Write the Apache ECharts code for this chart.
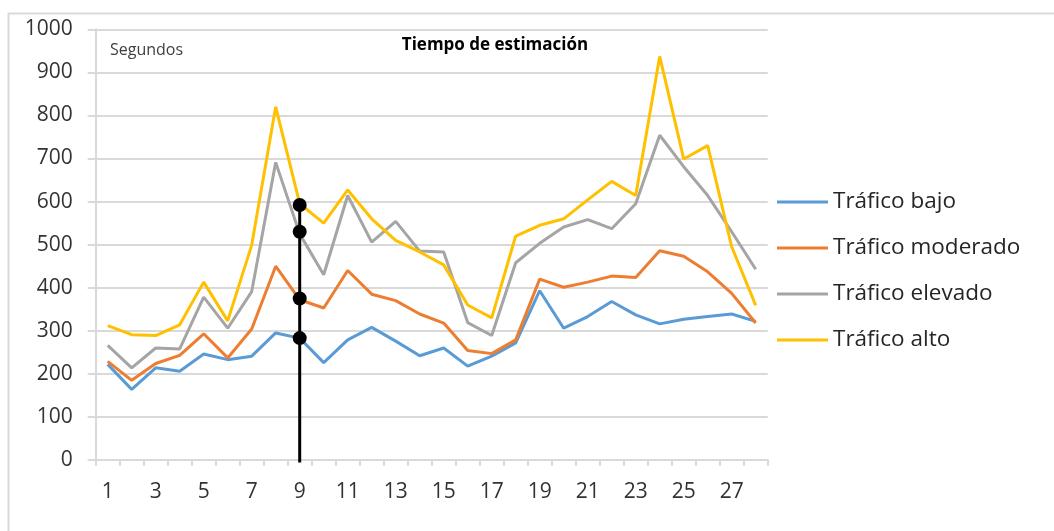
<!DOCTYPE html>
<html><head><meta charset="utf-8">
<script src="https://cdn.jsdelivr.net/npm/echarts@6/dist/echarts.min.js"></script>
<style>html,body{margin:0;padding:0;background:#fff}#c{width:1054px;height:531px}</style>
</head><body><div id="c"></div>
<script>
var categories = ['1','2','3','4','5','6','7','8','9','10','11','12','13','14','15','16','17','18','19','20','21','22','23','24','25','26','27','28'];
var bajo     = [222,164,214,206,246,233,241,295,283,226,279,308,276,242,260,218,241,272,393,306,333,368,337,316,327,333,339,322];
var moderado = [229,185,224,243,293,237,304,450,372,353,440,385,370,339,318,254,247,279,420,401,413,427,424,486,473,437,387,318];
var elevado  = [266,214,260,258,378,306,391,691,525,430,614,506,554,485,483,319,289,458,503,541,558,537,595,754,681,614,530,443];
var alto     = [312,291,289,314,413,323,499,820,595,550,627,560,510,483,453,360,330,520,545,560,604,647,614,937,699,730,495,359];
var markerCategory = '9';
var markerValues = [283,375,530,592];
var markerLine = [-6,592];
var seriesNames = ['Tráfico bajo','Tráfico moderado','Tráfico elevado','Tráfico alto'];

var FONT = 'Open Sans';
var chart = echarts.init(document.getElementById('c'));
function lineSeries(name, data, color){
  return {name:name,type:'line',data:data,symbol:'none',smooth:false,
    lineStyle:{color:color,width:3},itemStyle:{color:color},z:2};
}
chart.setOption({
  animation:false,
  textStyle:{fontFamily:FONT},
  grid:{left:95.7,right:286.3,top:29.3,bottom:71,containLabel:false},
  xAxis:{type:'category',data:categories,boundaryGap:true,
    axisLine:{lineStyle:{color:'#d9d9d9',width:2}},
    axisTick:{show:true,interval:0,length:6,lineStyle:{color:'#d9d9d9',width:2}},
    axisLabel:{interval:1,color:'#333333',fontSize:21,fontFamily:FONT,margin:22},
    splitLine:{show:false}},
  yAxis:{type:'value',min:0,max:1000,interval:100,
    axisLine:{show:true,lineStyle:{color:'#d9d9d9',width:2}},
    axisTick:{show:true,length:8,lineStyle:{color:'#d9d9d9',width:2}},
    axisLabel:{color:'#333333',fontSize:21,fontFamily:FONT,margin:23,formatter:function(v){return String(v);}},
    splitLine:{lineStyle:{color:'#d9d9d9',width:2}}},
  legend:{orient:'vertical',left:772,top:185.5,data:seriesNames,
    icon:'rect',itemWidth:51,itemHeight:3,itemGap:23,
    textStyle:{fontSize:22.5,color:'#262626',fontFamily:FONT}},
  graphic:[
    {type:'line',shape:{x1:8.5,y1:13,x2:8.5,y2:531},style:{stroke:'#d9d9d9',lineWidth:2},silent:true},
    {type:'line',shape:{x1:8,y1:13.5,x2:1054,y2:13.5},style:{stroke:'#d9d9d9',lineWidth:2},silent:true},
    {type:'text',x:110,y:50,style:{text:'Segundos',font:'16px "Open Sans"',fill:'#404040',textVerticalAlign:'middle'}},
    {type:'text',x:495,y:45,style:{text:'Tiempo de estimación',font:'bold 17px "Open Sans"',fill:'#000',textAlign:'center',textVerticalAlign:'middle'}}
  ],
  series:[
    lineSeries(seriesNames[0],bajo,'#5B9BD5'),
    lineSeries(seriesNames[1],moderado,'#ED7D31'),
    lineSeries(seriesNames[2],elevado,'#A5A5A5'),
    lineSeries(seriesNames[3],alto,'#FFC000'),
    {name:'linea',type:'line',data:markerLine.map(function(v){return [markerCategory,v];}),
      symbol:'none',lineStyle:{color:'#000',width:3},z:5,clip:false},
    {name:'puntos',type:'scatter',data:markerValues.map(function(v){return [markerCategory,v];}),
      symbol:'circle',symbolSize:14,itemStyle:{color:'#000',opacity:1},z:6}
  ]
});
</script></body></html>
